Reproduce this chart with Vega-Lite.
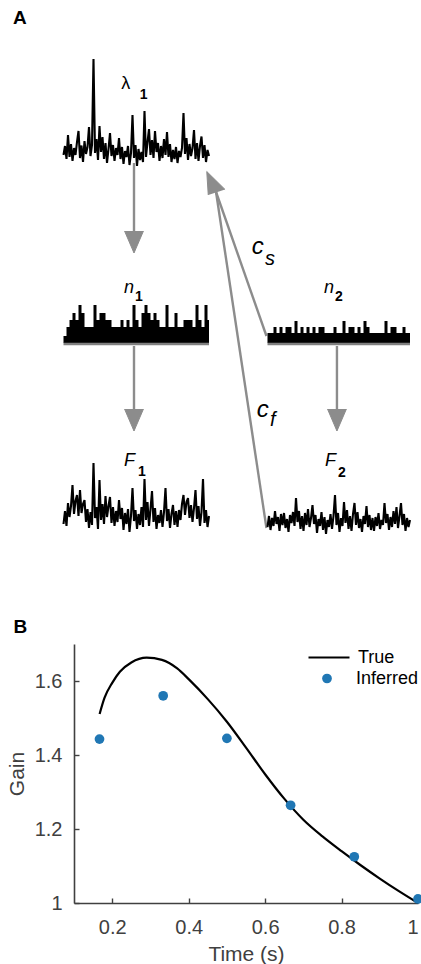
{
"$schema": "https://vega.github.io/schema/vega-lite/v6.json",
"padding": {"left": 6, "top": 0, "right": 0, "bottom": 0},
"spacing": 4,
"config": {"view": {"stroke": null}, "font": "Liberation Sans"},
"datasets": {
"traces": [
{"tr":"lam","x":0,"y":85.0},{"tr":"lam","x":1,"y":86.8},{"tr":"lam","x":2,"y":84.2},{"tr":"lam","x":3,"y":89.0},{"tr":"lam","x":4,"y":84.6},{"tr":"lam","x":5,"y":87.2},{"tr":"lam","x":6,"y":83.8},{"tr":"lam","x":7,"y":86.4},{"tr":"lam","x":8,"y":85.0},{"tr":"lam","x":9,"y":87.6},
{"tr":"lam","x":10,"y":89.8},{"tr":"lam","x":11,"y":84.4},{"tr":"lam","x":12,"y":86.9},{"tr":"lam","x":13,"y":83.6},{"tr":"lam","x":14,"y":87.8},{"tr":"lam","x":15,"y":85.2},{"tr":"lam","x":16,"y":86.6},{"tr":"lam","x":17,"y":90.6},{"tr":"lam","x":18,"y":84.8},{"tr":"lam","x":19,"y":87.0},
{"tr":"lam","x":20,"y":104.2},{"tr":"lam","x":21,"y":85.4},{"tr":"lam","x":22,"y":88.2},{"tr":"lam","x":23,"y":84.0},{"tr":"lam","x":24,"y":90.8},{"tr":"lam","x":25,"y":85.6},{"tr":"lam","x":26,"y":88.6},{"tr":"lam","x":27,"y":84.2},{"tr":"lam","x":28,"y":87.4},{"tr":"lam","x":29,"y":83.4},
{"tr":"lam","x":30,"y":86.2},{"tr":"lam","x":31,"y":89.4},{"tr":"lam","x":32,"y":84.8},{"tr":"lam","x":33,"y":87.0},{"tr":"lam","x":34,"y":83.8},{"tr":"lam","x":35,"y":86.4},{"tr":"lam","x":36,"y":85.0},{"tr":"lam","x":37,"y":88.4},{"tr":"lam","x":38,"y":84.2},{"tr":"lam","x":39,"y":86.6},
{"tr":"lam","x":40,"y":83.2},{"tr":"lam","x":41,"y":85.8},{"tr":"lam","x":42,"y":84.6},{"tr":"lam","x":43,"y":86.8},{"tr":"lam","x":44,"y":83.0},{"tr":"lam","x":45,"y":85.4},{"tr":"lam","x":46,"y":93.0},{"tr":"lam","x":47,"y":84.4},{"tr":"lam","x":48,"y":87.0},{"tr":"lam","x":49,"y":82.8},
{"tr":"lam","x":50,"y":86.2},{"tr":"lam","x":51,"y":84.0},{"tr":"lam","x":52,"y":85.6},{"tr":"lam","x":53,"y":83.6},{"tr":"lam","x":54,"y":93.8},{"tr":"lam","x":55,"y":84.6},{"tr":"lam","x":56,"y":87.6},{"tr":"lam","x":57,"y":90.2},{"tr":"lam","x":58,"y":85.0},{"tr":"lam","x":59,"y":88.0},
{"tr":"lam","x":60,"y":84.4},{"tr":"lam","x":61,"y":89.8},{"tr":"lam","x":62,"y":85.6},{"tr":"lam","x":63,"y":87.4},{"tr":"lam","x":64,"y":83.8},{"tr":"lam","x":65,"y":86.8},{"tr":"lam","x":66,"y":84.4},{"tr":"lam","x":67,"y":88.2},{"tr":"lam","x":68,"y":85.0},{"tr":"lam","x":69,"y":89.6},
{"tr":"lam","x":70,"y":84.6},{"tr":"lam","x":71,"y":87.2},{"tr":"lam","x":72,"y":83.6},{"tr":"lam","x":73,"y":86.0},{"tr":"lam","x":74,"y":84.2},{"tr":"lam","x":75,"y":86.6},{"tr":"lam","x":76,"y":83.4},{"tr":"lam","x":77,"y":85.8},{"tr":"lam","x":78,"y":84.6},{"tr":"lam","x":79,"y":86.4},
{"tr":"lam","x":80,"y":93.4},{"tr":"lam","x":81,"y":85.2},{"tr":"lam","x":82,"y":88.4},{"tr":"lam","x":83,"y":84.0},{"tr":"lam","x":84,"y":87.2},{"tr":"lam","x":85,"y":84.8},{"tr":"lam","x":86,"y":86.4},{"tr":"lam","x":87,"y":90.0},{"tr":"lam","x":88,"y":84.2},{"tr":"lam","x":89,"y":87.4},
{"tr":"lam","x":90,"y":83.8},{"tr":"lam","x":91,"y":86.8},{"tr":"lam","x":92,"y":88.7},{"tr":"lam","x":93,"y":84.4},{"tr":"lam","x":94,"y":87.0},{"tr":"lam","x":95,"y":83.6},{"tr":"lam","x":96,"y":86.0},{"tr":"lam","x":97,"y":84.8},
{"tr":"F1","x":0,"y":11.2},{"tr":"F1","x":1,"y":13.8},{"tr":"F1","x":2,"y":10.8},{"tr":"F1","x":3,"y":15.4},{"tr":"F1","x":4,"y":12.6},{"tr":"F1","x":5,"y":14.8},{"tr":"F1","x":6,"y":19.0},{"tr":"F1","x":7,"y":13.2},{"tr":"F1","x":8,"y":15.8},{"tr":"F1","x":9,"y":17.0},
{"tr":"F1","x":10,"y":12.8},{"tr":"F1","x":11,"y":18.0},{"tr":"F1","x":12,"y":13.4},{"tr":"F1","x":13,"y":15.2},{"tr":"F1","x":14,"y":16.0},{"tr":"F1","x":15,"y":11.6},{"tr":"F1","x":16,"y":14.2},{"tr":"F1","x":17,"y":10.4},{"tr":"F1","x":18,"y":13.6},{"tr":"F1","x":19,"y":11.0},
{"tr":"F1","x":20,"y":23.4},{"tr":"F1","x":21,"y":12.4},{"tr":"F1","x":22,"y":14.6},{"tr":"F1","x":23,"y":10.2},{"tr":"F1","x":24,"y":20.0},{"tr":"F1","x":25,"y":12.0},{"tr":"F1","x":26,"y":15.2},{"tr":"F1","x":27,"y":11.2},{"tr":"F1","x":28,"y":16.8},{"tr":"F1","x":29,"y":12.6},
{"tr":"F1","x":30,"y":14.8},{"tr":"F1","x":31,"y":16.6},{"tr":"F1","x":32,"y":11.4},{"tr":"F1","x":33,"y":14.6},{"tr":"F1","x":34,"y":10.8},{"tr":"F1","x":35,"y":13.8},{"tr":"F1","x":36,"y":11.6},{"tr":"F1","x":37,"y":16.0},{"tr":"F1","x":38,"y":12.2},{"tr":"F1","x":39,"y":14.4},
{"tr":"F1","x":40,"y":10.0},{"tr":"F1","x":41,"y":13.4},{"tr":"F1","x":42,"y":11.2},{"tr":"F1","x":43,"y":14.2},{"tr":"F1","x":44,"y":9.6},{"tr":"F1","x":45,"y":12.8},{"tr":"F1","x":46,"y":18.4},{"tr":"F1","x":47,"y":11.8},{"tr":"F1","x":48,"y":14.0},{"tr":"F1","x":49,"y":10.2},
{"tr":"F1","x":50,"y":13.2},{"tr":"F1","x":51,"y":11.0},{"tr":"F1","x":52,"y":14.6},{"tr":"F1","x":53,"y":10.6},{"tr":"F1","x":54,"y":20.2},{"tr":"F1","x":55,"y":12.0},{"tr":"F1","x":56,"y":15.6},{"tr":"F1","x":57,"y":10.8},{"tr":"F1","x":58,"y":14.2},{"tr":"F1","x":59,"y":17.8},
{"tr":"F1","x":60,"y":11.6},{"tr":"F1","x":61,"y":14.4},{"tr":"F1","x":62,"y":10.2},{"tr":"F1","x":63,"y":13.0},{"tr":"F1","x":64,"y":11.4},{"tr":"F1","x":65,"y":14.0},{"tr":"F1","x":66,"y":10.6},{"tr":"F1","x":67,"y":13.6},{"tr":"F1","x":68,"y":18.4},{"tr":"F1","x":69,"y":11.8},
{"tr":"F1","x":70,"y":14.2},{"tr":"F1","x":71,"y":10.4},{"tr":"F1","x":72,"y":13.2},{"tr":"F1","x":73,"y":15.0},{"tr":"F1","x":74,"y":11.0},{"tr":"F1","x":75,"y":13.8},{"tr":"F1","x":76,"y":10.6},{"tr":"F1","x":77,"y":14.0},{"tr":"F1","x":78,"y":12.0},{"tr":"F1","x":79,"y":15.2},
{"tr":"F1","x":80,"y":17.0},{"tr":"F1","x":81,"y":13.0},{"tr":"F1","x":82,"y":15.6},{"tr":"F1","x":83,"y":16.4},{"tr":"F1","x":84,"y":12.4},{"tr":"F1","x":85,"y":15.0},{"tr":"F1","x":86,"y":11.6},{"tr":"F1","x":87,"y":14.4},{"tr":"F1","x":88,"y":18.0},{"tr":"F1","x":89,"y":12.2},
{"tr":"F1","x":90,"y":14.8},{"tr":"F1","x":91,"y":10.8},{"tr":"F1","x":92,"y":13.6},{"tr":"F1","x":93,"y":20.2},{"tr":"F1","x":94,"y":11.4},{"tr":"F1","x":95,"y":14.0},{"tr":"F1","x":96,"y":10.6},{"tr":"F1","x":97,"y":12.8},
{"tr":"F2","x":136,"y":10.6},{"tr":"F2","x":137,"y":12.8},{"tr":"F2","x":138,"y":10.0},{"tr":"F2","x":139,"y":12.4},{"tr":"F2","x":140,"y":10.8},{"tr":"F2","x":141,"y":13.8},{"tr":"F2","x":142,"y":11.2},{"tr":"F2","x":143,"y":12.6},{"tr":"F2","x":144,"y":9.8},{"tr":"F2","x":145,"y":13.2},
{"tr":"F2","x":146,"y":11.0},{"tr":"F2","x":147,"y":13.4},{"tr":"F2","x":148,"y":10.4},{"tr":"F2","x":149,"y":12.2},{"tr":"F2","x":150,"y":9.6},{"tr":"F2","x":151,"y":13.0},{"tr":"F2","x":152,"y":11.4},{"tr":"F2","x":153,"y":13.6},{"tr":"F2","x":154,"y":10.8},{"tr":"F2","x":155,"y":16.4},
{"tr":"F2","x":156,"y":11.6},{"tr":"F2","x":157,"y":13.8},{"tr":"F2","x":158,"y":10.2},{"tr":"F2","x":159,"y":12.8},{"tr":"F2","x":160,"y":9.8},{"tr":"F2","x":161,"y":13.4},{"tr":"F2","x":162,"y":11.0},{"tr":"F2","x":163,"y":14.2},{"tr":"F2","x":164,"y":10.6},{"tr":"F2","x":165,"y":12.4},
{"tr":"F2","x":166,"y":15.0},{"tr":"F2","x":167,"y":11.2},{"tr":"F2","x":168,"y":13.0},{"tr":"F2","x":169,"y":9.4},{"tr":"F2","x":170,"y":12.2},{"tr":"F2","x":171,"y":10.8},{"tr":"F2","x":172,"y":13.6},{"tr":"F2","x":173,"y":10.0},{"tr":"F2","x":174,"y":12.6},{"tr":"F2","x":175,"y":9.2},
{"tr":"F2","x":176,"y":12.0},{"tr":"F2","x":177,"y":10.6},{"tr":"F2","x":178,"y":13.2},{"tr":"F2","x":179,"y":10.2},{"tr":"F2","x":180,"y":12.8},{"tr":"F2","x":181,"y":17.0},{"tr":"F2","x":182,"y":11.0},{"tr":"F2","x":183,"y":13.4},{"tr":"F2","x":184,"y":9.6},{"tr":"F2","x":185,"y":12.4},
{"tr":"F2","x":186,"y":10.8},{"tr":"F2","x":187,"y":15.6},{"tr":"F2","x":188,"y":11.4},{"tr":"F2","x":189,"y":14.0},{"tr":"F2","x":190,"y":10.2},{"tr":"F2","x":191,"y":12.8},{"tr":"F2","x":192,"y":9.8},{"tr":"F2","x":193,"y":13.2},{"tr":"F2","x":194,"y":15.4},{"tr":"F2","x":195,"y":11.0},
{"tr":"F2","x":196,"y":13.6},{"tr":"F2","x":197,"y":10.4},{"tr":"F2","x":198,"y":12.2},{"tr":"F2","x":199,"y":9.6},{"tr":"F2","x":200,"y":12.8},{"tr":"F2","x":201,"y":11.2},{"tr":"F2","x":202,"y":14.8},{"tr":"F2","x":203,"y":10.6},{"tr":"F2","x":204,"y":13.0},{"tr":"F2","x":205,"y":10.0},
{"tr":"F2","x":206,"y":12.4},{"tr":"F2","x":207,"y":9.8},{"tr":"F2","x":208,"y":12.6},{"tr":"F2","x":209,"y":10.8},{"tr":"F2","x":210,"y":13.4},{"tr":"F2","x":211,"y":10.2},{"tr":"F2","x":212,"y":12.0},{"tr":"F2","x":213,"y":11.0},{"tr":"F2","x":214,"y":15.4},{"tr":"F2","x":215,"y":11.4},
{"tr":"F2","x":216,"y":13.2},{"tr":"F2","x":217,"y":10.0},{"tr":"F2","x":218,"y":12.6},{"tr":"F2","x":219,"y":10.6},{"tr":"F2","x":220,"y":13.8},{"tr":"F2","x":221,"y":11.2},{"tr":"F2","x":222,"y":14.6},{"tr":"F2","x":223,"y":10.4},{"tr":"F2","x":224,"y":12.8},{"tr":"F2","x":225,"y":15.4},
{"tr":"F2","x":226,"y":11.0},{"tr":"F2","x":227,"y":13.2},{"tr":"F2","x":228,"y":9.8},{"tr":"F2","x":229,"y":12.4},{"tr":"F2","x":230,"y":10.6},{"tr":"F2","x":231,"y":12.0}
],
"counts": [
{"tr":"n1","x":0,"y":48.8},{"tr":"n1","x":2,"y":50.6},{"tr":"n1","x":4,"y":52.0},{"tr":"n1","x":6,"y":53.4},{"tr":"n1","x":8,"y":52.0},{"tr":"n1","x":10,"y":55.0},{"tr":"n1","x":12,"y":53.4},{"tr":"n1","x":14,"y":50.6},{"tr":"n1","x":16,"y":50.6},{"tr":"n1","x":18,"y":50.6},
{"tr":"n1","x":20,"y":55.0},{"tr":"n1","x":22,"y":52.0},{"tr":"n1","x":24,"y":53.4},{"tr":"n1","x":26,"y":53.4},{"tr":"n1","x":28,"y":52.0},{"tr":"n1","x":30,"y":52.0},{"tr":"n1","x":32,"y":50.6},{"tr":"n1","x":34,"y":50.6},{"tr":"n1","x":36,"y":50.6},{"tr":"n1","x":38,"y":52.0},
{"tr":"n1","x":40,"y":50.6},{"tr":"n1","x":42,"y":52.0},{"tr":"n1","x":44,"y":50.6},{"tr":"n1","x":46,"y":55.0},{"tr":"n1","x":48,"y":52.0},{"tr":"n1","x":50,"y":50.6},{"tr":"n1","x":52,"y":53.4},{"tr":"n1","x":54,"y":55.0},{"tr":"n1","x":56,"y":53.4},{"tr":"n1","x":58,"y":52.0},
{"tr":"n1","x":60,"y":53.4},{"tr":"n1","x":62,"y":52.0},{"tr":"n1","x":64,"y":50.6},{"tr":"n1","x":66,"y":50.6},{"tr":"n1","x":68,"y":55.0},{"tr":"n1","x":70,"y":50.6},{"tr":"n1","x":72,"y":50.6},{"tr":"n1","x":74,"y":53.4},{"tr":"n1","x":76,"y":50.6},{"tr":"n1","x":78,"y":50.6},
{"tr":"n1","x":80,"y":52.0},{"tr":"n1","x":82,"y":52.0},{"tr":"n1","x":84,"y":52.0},{"tr":"n1","x":86,"y":50.6},{"tr":"n1","x":88,"y":55.0},{"tr":"n1","x":90,"y":52.0},{"tr":"n1","x":92,"y":50.6},{"tr":"n1","x":94,"y":55.0},{"tr":"n1","x":96,"y":52.0},{"tr":"n1","x":97,"y":52.0},
{"tr":"n2","x":136,"y":49.4},{"tr":"n2","x":138,"y":49.4},{"tr":"n2","x":140,"y":50.6},{"tr":"n2","x":142,"y":49.4},{"tr":"n2","x":144,"y":50.6},{"tr":"n2","x":146,"y":49.4},{"tr":"n2","x":148,"y":50.6},{"tr":"n2","x":150,"y":50.6},{"tr":"n2","x":152,"y":49.4},{"tr":"n2","x":154,"y":51.8},
{"tr":"n2","x":156,"y":49.4},{"tr":"n2","x":158,"y":50.6},{"tr":"n2","x":160,"y":49.4},{"tr":"n2","x":162,"y":50.6},{"tr":"n2","x":164,"y":49.4},{"tr":"n2","x":166,"y":50.6},{"tr":"n2","x":168,"y":49.4},{"tr":"n2","x":170,"y":50.6},{"tr":"n2","x":172,"y":50.6},{"tr":"n2","x":174,"y":49.4},
{"tr":"n2","x":176,"y":49.4},{"tr":"n2","x":178,"y":49.4},{"tr":"n2","x":180,"y":50.6},{"tr":"n2","x":182,"y":49.4},{"tr":"n2","x":184,"y":49.4},{"tr":"n2","x":186,"y":51.8},{"tr":"n2","x":188,"y":49.4},{"tr":"n2","x":190,"y":50.6},{"tr":"n2","x":192,"y":50.6},{"tr":"n2","x":194,"y":49.4},
{"tr":"n2","x":196,"y":50.6},{"tr":"n2","x":198,"y":49.4},{"tr":"n2","x":200,"y":51.8},{"tr":"n2","x":202,"y":50.6},{"tr":"n2","x":204,"y":49.4},{"tr":"n2","x":206,"y":49.4},{"tr":"n2","x":208,"y":49.4},{"tr":"n2","x":210,"y":49.4},{"tr":"n2","x":212,"y":49.4},{"tr":"n2","x":214,"y":51.8},
{"tr":"n2","x":216,"y":49.4},{"tr":"n2","x":218,"y":50.6},{"tr":"n2","x":220,"y":50.6},{"tr":"n2","x":222,"y":49.4},{"tr":"n2","x":224,"y":49.4},{"tr":"n2","x":226,"y":50.6},{"tr":"n2","x":228,"y":49.4},{"tr":"n2","x":230,"y":49.4},{"tr":"n2","x":231,"y":49.4}
],
"bases": [{"x":0,"x2":97,"y":47.2},{"x":136,"x2":231,"y":47.2}],
"shafts": [
{"a":"l_n1","k":0,"x":47,"y":83.4},{"a":"l_n1","k":1,"x":47,"y":69.8},
{"a":"n1_F1","k":0,"x":47,"y":46.8},{"a":"n1_F1","k":1,"x":47,"y":34.2},
{"a":"n2_F2","k":0,"x":182.3,"y":46.8},{"a":"n2_F2","k":1,"x":182.3,"y":34.2},
{"a":"cs","k":0,"x":135.3,"y":48.8},{"a":"cs","k":1,"x":101.7,"y":77.6},
{"a":"cf","k":0,"x":135.3,"y":10.4},{"a":"cf","k":1,"x":101.7,"y":77.6}
],
"heads": [
{"a":"h1","k":0,"x":40.7,"y":69.8},{"a":"h1","k":1,"x":47,"y":65.4},{"a":"h1","k":2,"x":53.3,"y":69.8},
{"a":"h2","k":0,"x":40.7,"y":34.2},{"a":"h2","k":1,"x":47,"y":29.8},{"a":"h2","k":2,"x":53.3,"y":34.2},
{"a":"h3","k":0,"x":176.0,"y":34.2},{"a":"h3","k":1,"x":182.3,"y":29.8},{"a":"h3","k":2,"x":188.6,"y":34.2},
{"a":"h4","k":0,"x":96.5,"y":77.0},{"a":"h4","k":1,"x":95.5,"y":81.7},{"a":"h4","k":2,"x":107.7,"y":78.1}
],
"labUpright": [{"t":"λ","x":38.5,"y":98.3}],
"labItalic": [{"t":"n","x":40.3,"y":57.5},{"t":"n","x":173.7,"y":57.5},{"t":"F","x":40.3,"y":22.9},{"t":"F","x":174.3,"y":22.8}],
"labSub": [{"t":"1","x":50.8,"y":96.3},{"t":"1","x":47.7,"y":55.9},{"t":"2","x":181.0,"y":55.9},{"t":"1","x":49.7,"y":20.8},{"t":"2","x":183.0,"y":20.7}],
"labC": [{"t":"c","x":125.5,"y":65.3},{"t":"c","x":128.8,"y":32.7}],
"labCsub": [{"t":"s","x":134.3,"y":63.0},{"t":"f","x":137.7,"y":30.9}],
"panels": [{"t":"A","x":-33.7,"y":111.2},{"t":"B","x":-33.3,"y":-10.6}],
"truth": [
{"s":"True","t":0.167,"g":1.511},{"s":"True","t":0.18,"g":1.555},{"s":"True","t":0.2,"g":1.595},{"s":"True","t":0.22,"g":1.625},{"s":"True","t":0.25,"g":1.650},{"s":"True","t":0.29,"g":1.663},{"s":"True","t":0.33,"g":1.657},{"s":"True","t":0.37,"g":1.634},{"s":"True","t":0.4,"g":1.605},{"s":"True","t":0.45,"g":1.551},{"s":"True","t":0.5,"g":1.490},{"s":"True","t":0.55,"g":1.420},{"s":"True","t":0.6,"g":1.348},{"s":"True","t":0.65,"g":1.282},{"s":"True","t":0.7,"g":1.225},{"s":"True","t":0.75,"g":1.180},{"s":"True","t":0.8,"g":1.140},{"s":"True","t":0.85,"g":1.102},{"s":"True","t":0.9,"g":1.066},{"s":"True","t":0.95,"g":1.032},{"s":"True","t":1.0,"g":1.000}
],
"inferred": [
{"s":"Inferred","t":0.1667,"g":1.443},{"s":"Inferred","t":0.3333,"g":1.560},{"s":"Inferred","t":0.5,"g":1.445},{"s":"Inferred","t":0.6667,"g":1.264},{"s":"Inferred","t":0.8333,"g":1.125},{"s":"Inferred","t":1.0,"g":1.011}
]
},
"vconcat": [
{
"width": 345, "height": 640,
"encoding": {
"x": {"field": "x", "type": "quantitative", "scale": {"domain": [7, 237], "nice": false, "zero": false}, "axis": null},
"y": {"field": "y", "type": "quantitative", "scale": {"domain": [-12, 116], "nice": false, "zero": false}, "axis": null}
},
"layer": [
{"data": {"name": "shafts"}, "mark": {"type": "line", "color": "#8c8c8c", "strokeWidth": 2.4}, "encoding": {"detail": {"field": "a"}, "order": {"field": "k"}}},
{"data": {"name": "heads"}, "mark": {"type": "line", "stroke": "#8c8c8c", "fill": "#8c8c8c", "strokeWidth": 1, "strokeJoin": "miter"}, "encoding": {"detail": {"field": "a"}, "order": {"field": "k"}}},
{"data": {"name": "traces"}, "mark": {"type": "line", "color": "black", "strokeWidth": 2.1}, "encoding": {"detail": {"field": "tr"}}},
{"data": {"name": "counts"}, "mark": {"type": "area", "color": "black", "interpolate": "step-after"}, "encoding": {"detail": {"field": "tr"}, "y2": {"datum": 47.4}}},
{"data": {"name": "bases"}, "mark": {"type": "rule", "color": "#808080", "strokeWidth": 2.4}, "encoding": {"x2": {"field": "x2"}}},
{"data": {"name": "labUpright"}, "mark": {"type": "text", "align": "left", "baseline": "alphabetic", "fontSize": 18, "color": "black"}, "encoding": {"text": {"field": "t"}}},
{"data": {"name": "labItalic"}, "mark": {"type": "text", "align": "left", "baseline": "alphabetic", "fontSize": 18, "fontStyle": "italic", "color": "black"}, "encoding": {"text": {"field": "t"}}},
{"data": {"name": "labSub"}, "mark": {"type": "text", "align": "left", "baseline": "alphabetic", "fontSize": 14, "fontWeight": "bold", "color": "black"}, "encoding": {"text": {"field": "t"}}},
{"data": {"name": "labC"}, "mark": {"type": "text", "align": "left", "baseline": "alphabetic", "fontSize": 24, "fontStyle": "italic", "color": "black"}, "encoding": {"text": {"field": "t"}}},
{"data": {"name": "labCsub"}, "mark": {"type": "text", "align": "left", "baseline": "alphabetic", "fontSize": 20, "fontStyle": "italic", "color": "black"}, "encoding": {"text": {"field": "t"}}},
{"data": {"name": "panels"}, "mark": {"type": "text", "align": "left", "baseline": "alphabetic", "fontSize": 19, "fontWeight": "bold", "color": "black"}, "encoding": {"text": {"field": "t"}}}
]
},
{
"width": 344, "height": 259,
"encoding": {
"x": {"field": "t", "type": "quantitative", "scale": {"domain": [0.1, 1], "nice": false, "zero": false},
 "axis": {"values": [0.2, 0.4, 0.6, 0.8, 1], "format": "~g", "title": "Time (s)", "grid": false, "domainColor": "#404040", "domainWidth": 1.6, "tickColor": "#404040", "tickWidth": 1.4, "tickSize": -5, "labelPadding": 19, "labelFontSize": 20, "labelColor": "#404040", "titleFontSize": 21, "titleFontWeight": "normal", "titleColor": "#404040", "titlePadding": 6}},
"y": {"field": "g", "type": "quantitative", "scale": {"domain": [1, 1.7], "nice": false, "zero": false},
 "axis": {"values": [1, 1.2, 1.4, 1.6], "format": "~g", "title": "Gain", "grid": false, "domainColor": "#404040", "domainWidth": 1.6, "tickColor": "#404040", "tickWidth": 1.4, "tickSize": -5, "labelPadding": 17, "labelFontSize": 20, "labelColor": "#404040", "titleFontSize": 21, "titleFontWeight": "normal", "titleColor": "#404040", "titlePadding": 7}}
},
"layer": [
{"data": {"name": "truth"}, "mark": {"type": "line", "strokeWidth": 2.2, "interpolate": "monotone"},
 "encoding": {"stroke": {"field": "s", "type": "nominal", "scale": {"domain": ["True"], "range": ["black"]},
  "legend": {"orient": "none", "legendX": 233, "legendY": 635.5, "title": null, "symbolType": "stroke", "symbolSize": 1681, "symbolStrokeWidth": 2.2, "labelFontSize": 18, "labelColor": "black", "labelOffset": 7, "padding": 0}}}},
{"data": {"name": "inferred"}, "mark": {"type": "point", "filled": true, "size": 95, "opacity": 1},
 "encoding": {"fill": {"field": "s", "type": "nominal", "scale": {"domain": ["Inferred"], "range": ["#2077b4"]},
  "legend": {"orient": "none", "legendX": 244, "legendY": 669.5, "title": null, "symbolType": "circle", "symbolSize": 95, "symbolOpacity": 1, "labelFontSize": 18, "labelColor": "black", "labelOffset": 20, "padding": 0}}}}
]
}
]
}
